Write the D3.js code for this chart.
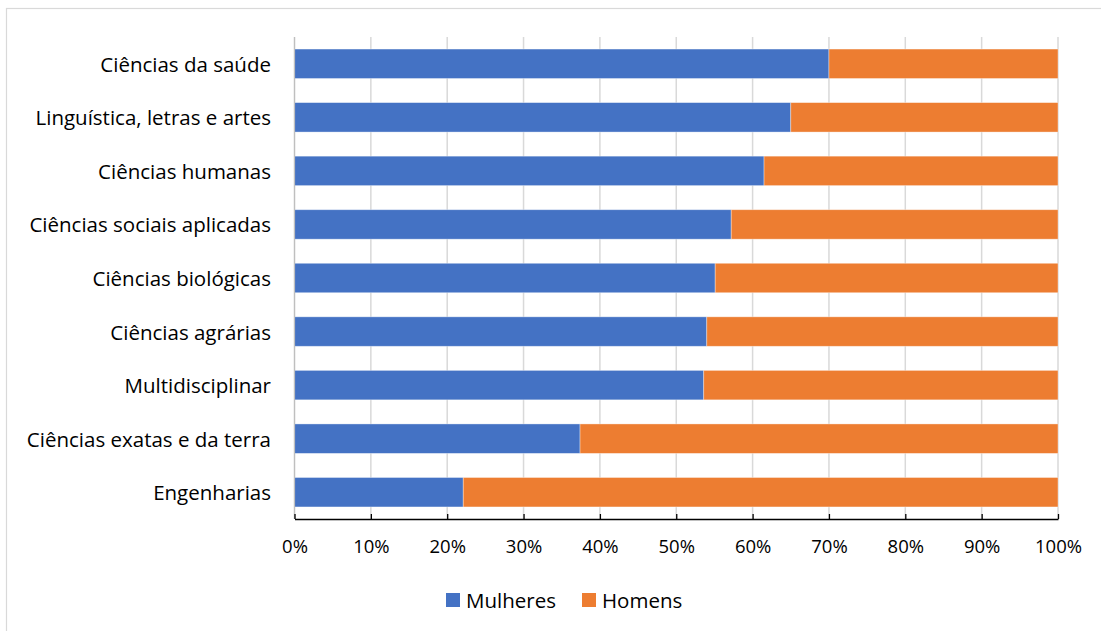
<!DOCTYPE html>
<html>
<head>
<meta charset="utf-8">
<script src="https://cdn.jsdelivr.net/npm/d3@7/dist/d3.min.js"></script>
<style>
  html, body { margin: 0; padding: 0; background: #fff; }
  svg { display: block; }
  text { font-family: "Open Sans", Lato, sans-serif; fill: #000; }
</style>
</head>
<body>
<svg id="chart" width="1101" height="631"></svg>
<script>
// Share of women and men by field of knowledge (fractions of 1)
const categories = [
  "Ciências da saúde",
  "Linguística, letras e artes",
  "Ciências humanas",
  "Ciências sociais aplicadas",
  "Ciências biológicas",
  "Ciências agrárias",
  "Multidisciplinar",
  "Ciências exatas e da terra",
  "Engenharias"
];
const mulheres = [0.700, 0.650, 0.615, 0.572, 0.551, 0.540, 0.536, 0.374, 0.221];
const homens = mulheres.map(v => 1 - v);
const seriesNames = ["Mulheres", "Homens"];
const seriesColors = ["#4472C4", "#ED7D31"];
const tickValues = [0, 0.1, 0.2, 0.3, 0.4, 0.5, 0.6, 0.7, 0.8, 0.9, 1.0];

const svg = d3.select("#chart");

// outer chart frame
svg.append("rect")
  .attr("x", 6.5).attr("y", 8.5)
  .attr("width", 1110).attr("height", 640)
  .attr("fill", "none").attr("stroke", "#d9d9d9").attr("stroke-width", 1.2);

const plot = { left: 294.5, right: 1058, top: 37, bottom: 519 };

const x = d3.scaleLinear().domain([0, 1]).range([plot.left, plot.right]);
const y = d3.scaleBand().domain(categories)
  .range([plot.top, plot.bottom]).paddingInner(0.45).paddingOuter(0.225);

// vertical gridlines
svg.append("g").selectAll("line").data(tickValues).join("line")
  .attr("x1", d => x(d)).attr("x2", d => x(d))
  .attr("y1", plot.top).attr("y2", plot.bottom)
  .attr("stroke", "#d9d9d9").attr("stroke-width", 1.5);

// stacked bars
const rows = categories.map((c, i) => ({ cat: c, m: mulheres[i], h: homens[i] }));
const stack = d3.stack().keys(["m", "h"])(rows);
svg.append("g").selectAll("g").data(stack).join("g")
  .attr("fill", (d, i) => seriesColors[i])
  .selectAll("rect").data(d => d).join("rect")
  .attr("x", d => x(d[0]))
  .attr("width", d => x(d[1]) - x(d[0]))
  .attr("y", d => y(d.data.cat))
  .attr("height", y.bandwidth())
  .attr("stroke", "#ffffff").attr("stroke-opacity", 0.45).attr("stroke-width", 0.8);

// category axis (left)
svg.append("line")
  .attr("x1", plot.left).attr("x2", plot.left)
  .attr("y1", plot.top).attr("y2", plot.bottom)
  .attr("stroke", "#bfbfbf").attr("stroke-width", 1.2);
svg.append("g").selectAll("text").data(categories).join("text")
  .attr("x", 271)
  .attr("y", d => y(d) + y.bandwidth() / 2)
  .attr("text-anchor", "end")
  .attr("dominant-baseline", "central")
  .attr("font-size", 20.5)
  .text(d => d);

// value axis (bottom)
const xAxis = d3.axisBottom(x)
  .tickValues(tickValues)
  .tickFormat(d3.format(".0%"))
  .tickSizeInner(-5).tickSizeOuter(0).tickPadding(21);
const gx = svg.append("g").attr("transform", `translate(0,${plot.bottom})`).call(xAxis);
gx.select(".domain").attr("stroke", "#000").attr("stroke-width", 1.3);
gx.selectAll(".tick line").attr("stroke", "#000").attr("stroke-width", 1.3);
gx.selectAll(".tick text")
  .attr("font-size", 18.5)
  .attr("font-family", "'Open Sans', Lato, sans-serif")
  .attr("fill", "#000");

// legend
const legendItems = [
  { name: seriesNames[0], color: seriesColors[0], x: 446 },
  { name: seriesNames[1], color: seriesColors[1], x: 582 }
];
const lg = svg.append("g").selectAll("g").data(legendItems).join("g")
  .attr("transform", d => `translate(${d.x},600)`);
lg.append("rect").attr("x", 0).attr("y", -7).attr("width", 14).attr("height", 14)
  .attr("fill", d => d.color);
lg.append("text").attr("x", 20).attr("y", 0)
  .attr("dominant-baseline", "central")
  .attr("font-size", 20.5)
  .text(d => d.name);
</script>
</body>
</html>
